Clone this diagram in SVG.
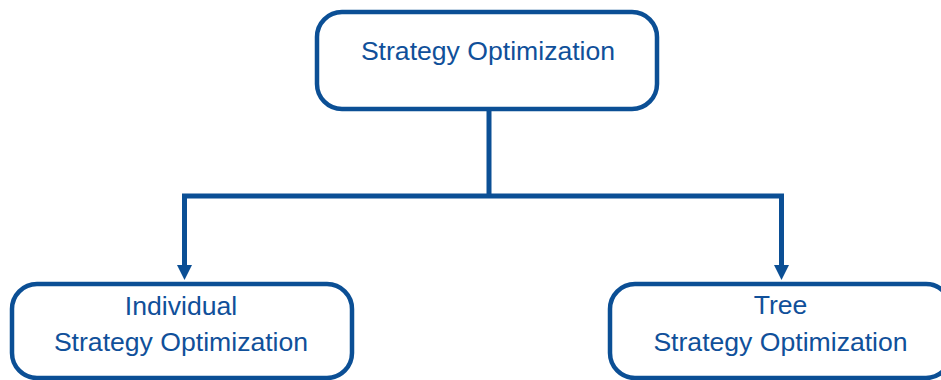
<svg xmlns="http://www.w3.org/2000/svg" width="941" height="380" viewBox="0 0 941 380">
<style>
.box{fill:#fff;stroke:#0b4f95;stroke-width:4.5}
.lbl{font-family:"Liberation Sans",Arial,sans-serif;font-size:26.6px;fill:#10509a;text-anchor:middle}
.conn{fill:none;stroke:#0b4f95;stroke-width:5}
</style>
<defs>
<marker id="arr" markerUnits="userSpaceOnUse" markerWidth="16" markerHeight="17" refX="15" refY="8" orient="auto" overflow="visible">
<path d="M0,0 L15,8 L0,16 Z" fill="#0b4f95"/>
</marker>
</defs>
<rect width="941" height="380" fill="#fff"/>
<g id="connectors">
<polyline class="conn" points="489,111 489,196"/>
<polyline class="conn" points="489,196 184.5,196 184.5,268"/>
<polyline class="conn" points="489,196 781.5,196 781.5,268"/>
<path d="M177,265 L192,265 L184.5,280 Z" fill="#0b4f95"/>
<path d="M774,265 L789,265 L781.5,280 Z" fill="#0b4f95"/>
</g>
<g id="n-top">
<rect class="box" x="317" y="12" width="340" height="97" rx="25"/>
<text class="lbl" x="488" y="60">Strategy Optimization</text>
</g>
<g id="n-individual">
<rect class="box" x="12" y="284" width="340" height="94" rx="25"/>
<text class="lbl" x="181" y="315">Individual</text>
<text class="lbl" x="181" y="351">Strategy Optimization</text>
</g>
<g id="n-tree">
<rect class="box" x="610" y="284" width="341" height="94" rx="25"/>
<text class="lbl" x="780.5" y="314">Tree</text>
<text class="lbl" x="780.5" y="351">Strategy Optimization</text>
</g>
</svg>
